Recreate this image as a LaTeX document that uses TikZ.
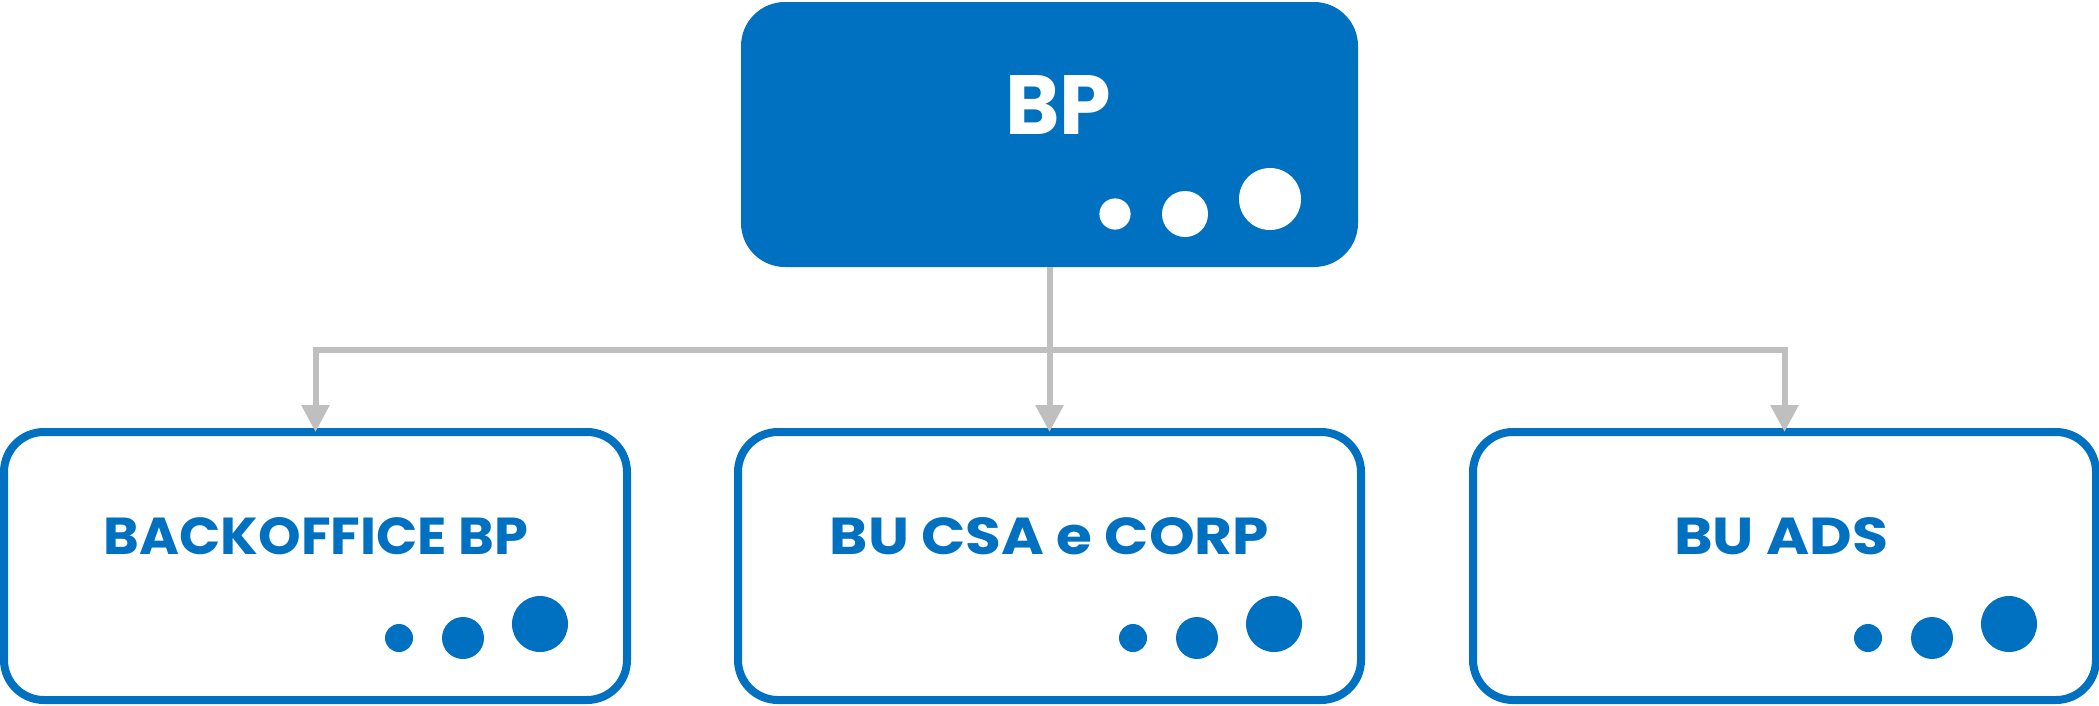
\documentclass[tikz,border=0pt]{standalone}
\usepackage{fontspec}
\setmainfont{Poppins}
\usetikzlibrary{arrows.meta}
\begin{document}
\begin{tikzpicture}[x=1pt,y=-1pt,
  box/.style={draw=boxblue,line width=8pt,rounded corners=40pt,fill=white},
  conn/.style={draw=lgray,line width=6pt},
  arr/.style={-{Triangle[length=27pt,width=27pt]},draw=lgray,line width=6pt,shorten >=-4pt},
  lbl/.style={text=boxblue,inner sep=0}]
\definecolor{boxblue}{HTML}{0070C0}
\definecolor{lgray}{HTML}{BFBFBF}
\useasboundingbox (0,0) rectangle (2099,705);
\fill[boxblue,rounded corners=44pt] (741,2) rectangle (1358,267);
\node (top) [inner sep=0,minimum width=617pt,minimum height=265pt] at (1049.5,134.5) {};
\node[text=white,inner sep=0] (tl) at (1058,104.5) {\resizebox{106pt}{59pt}{\bfseries BP}};
\fill[white] (1115,214) circle (15.6) (1185,214) circle (23) (1270,199) circle (31);
\foreach \n/\x/\t/\tx/\w in {a/4/BACKOFFICE BP/316/424,b/738/BU CSA e CORP/1049.5/439,c/1473/BU ADS/1781/214}{
  \draw[box] (\x,432) rectangle (\x+623,700);
  \coordinate (\n) at (\x+311.5,428);
  \node[lbl] (t\n) at (\tx,536) {\resizebox{\w pt}{37pt}{\bfseries \t}};
}
\foreach \dx in {4,738,1473}{
  \fill[boxblue] (\dx+395,638) circle (14) (\dx+459,638) circle (21) (\dx+536,624) circle (28);
}
\coordinate (j) at (top.south |- 0,350);
\coordinate (ja) at (a |- j);
\coordinate (jc) at (c |- j);
\draw[conn] (top.south) -- (j);
\draw[conn] ([xshift=-3pt]ja) -- ([xshift=3pt]jc);
\draw[arr] (ja) -- (a);
\draw[arr] (j) -- (b);
\draw[arr] (jc) -- (c);
\end{tikzpicture}
\end{document}
